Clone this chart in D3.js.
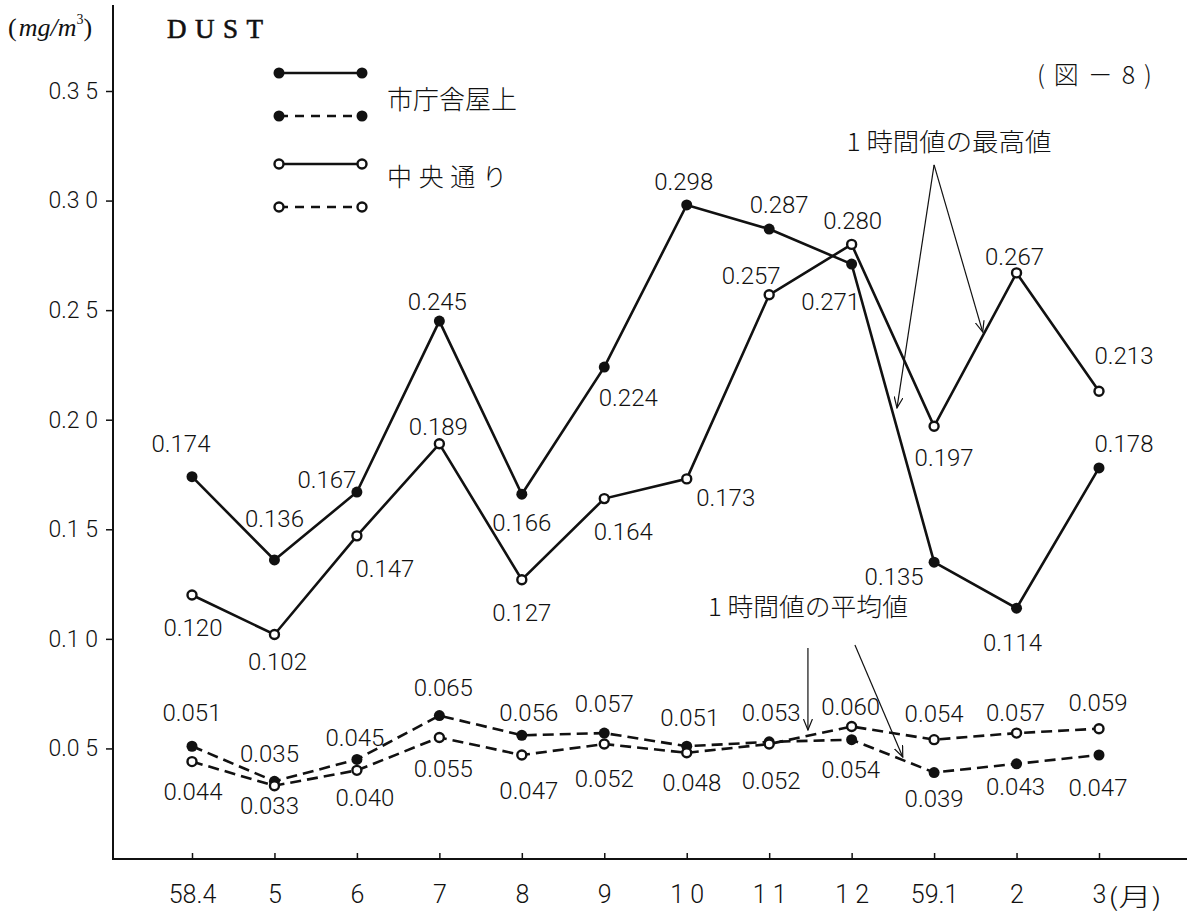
<!DOCTYPE html>
<html>
<head>
<meta charset="utf-8">
<script src="https://cdn.jsdelivr.net/npm/d3@7"></script>
<style>
  body { margin: 0; background: #fff; }
  svg { display: block; background: #fff; }
</style>
</head>
<body>
<svg id="dust-svg" width="1187" height="915"></svg>
<script>
// months on the x axis (Showa 58.4 -> 59.3)
const months = ["58.4", "5", "6", "7", "8", "9", "10", "11", "12", "59.1", "2", "3"];
const monthLabels = ["58.4", "5", "6", "7", "8", "9", "1 0", "1 1", "1 2", "59.1", "2", "3"];
const yTicks = [0.05, 0.10, 0.15, 0.20, 0.25, 0.30, 0.35];
const yTickLabels = ["0.0 5", "0.1 0", "0.1 5", "0.2 0", "0.2 5", "0.3 0", "0.3 5"];

// 1時間値の最高値
const roofMax = [0.174, 0.136, 0.167, 0.245, 0.166, 0.224, 0.298, 0.287, 0.271, 0.135, 0.114, 0.178];
const centerMax = [0.120, 0.102, 0.147, 0.189, 0.127, 0.164, 0.173, 0.257, 0.280, 0.197, 0.267, 0.213];
// 1時間値の平均値
const roofAvg = [0.051, 0.035, 0.045, 0.065, 0.056, 0.057, 0.051, 0.053, 0.054, 0.039, 0.043, 0.047];
const centerAvg = [0.044, 0.033, 0.040, 0.055, 0.047, 0.052, 0.048, 0.052, 0.060, 0.054, 0.057, 0.059];

// where each value label sits relative to its point (px)
const roofMaxLabelPos = [[-11,-33],[0,-42],[-30,-13],[-2,-20],[0,28],[24,30],[-3,-24],[10,-25],[-21,37],[-40,14],[-4,34],[25,-25]];
const centerMaxLabelPos = [[1,32],[3,27],[28,32],[-1,-17],[0,33],[19,33],[39,18],[-18,-19],[1,-24],[10,31],[-2,-17],[25,-36]];
const roofAvgLabelPos = [[0,-34],[-5,-28],[-2,-22],[4,-28],[7,-23],[0,-30],[3,-29],[2,-29],[-1,30],[0,26],[-1,23],[-1,32]];
const centerAvgLabelPos = [[1,30],[-5,20],[8,27],[4,31],[7,35],[0,34],[5,30],[2,36],[-1,-20],[0,-26],[-1,-21],[-1,-26]];

// annotation arrows in data units: [monthIndex, value]
const maxNoteArrows = [[[9.0, 0.3163], [8.55, 0.2054]], [[9.0, 0.3163], [9.59, 0.240]]];
const avgNoteArrows = [[[7.47, 0.0958], [7.47, 0.0584]], [[8.04, 0.0972], [8.62, 0.0461]]];

function createDustChart(width, height) {
    const size = {
        width: width,
        height: height,
        left: 113,
        top: 91,
        bottom: 858
    };
    const svg = d3.select('#dust-svg');
    const numFont = "Roboto, 'Liberation Sans', Arial, sans-serif";
    const jpFont = "'Noto Sans CJK JP', 'Noto Sans', sans-serif";
    const ink = "#111";

    const xScale = d3.scalePoint()
        .domain(months)
        .range([192, 1099]);
    const xIdx = d3.scaleLinear()
        .domain([0, months.length - 1])
        .range([192, 1099]);
    const yScale = d3.scaleLinear()
        .domain([0, 0.35])
        .range([size.bottom, size.top]);

    // axes
    svg.append("line")
        .attr("x1", size.left).attr("x2", size.left)
        .attr("y1", 5).attr("y2", size.bottom + 1)
        .attr("stroke", ink).attr("stroke-width", 2);
    svg.append("line")
        .attr("x1", size.left - 1).attr("x2", size.width)
        .attr("y1", size.bottom + 1).attr("y2", size.bottom + 1)
        .attr("stroke", ink).attr("stroke-width", 2);

    const yAxis = svg.append("g")
        .attr("transform", `translate(${size.left}, 0)`)
        .call(d3.axisLeft(yScale).tickValues(yTicks).tickSize(7).tickPadding(8)
            .tickFormat((d, i) => yTickLabels[i]));
    yAxis.select(".domain").remove();
    yAxis.selectAll("line").attr("stroke", ink).attr("stroke-width", 1.5);
    yAxis.selectAll("text")
        .attr("font-family", numFont).attr("font-weight", 300)
        .attr("font-size", 23).attr("fill", ink);

    const xAxis = svg.append("g")
        .attr("transform", `translate(0, ${size.bottom + 1})`)
        .call(d3.axisBottom(xScale).tickSize(-6).tickPadding(26)
            .tickFormat((d, i) => monthLabels[i]));
    xAxis.select(".domain").remove();
    xAxis.selectAll("line").attr("stroke", ink).attr("stroke-width", 1.5);
    xAxis.selectAll("text")
        .attr("font-family", numFont).attr("font-weight", 300)
        .attr("font-size", 25).attr("fill", ink);

    svg.append("text")
        .attr("x", 1108)
        .attr("y", 897)
        .attr("dy", "0.35em")
        .attr("font-family", jpFont)
        .attr("font-weight", 300)
        .attr("font-size", 25)
        .attr("textLength", 54)
        .attr("lengthAdjust", "spacingAndGlyphs")
        .attr("fill", ink)
        .text("(月)");

    // series
    const series = [
        { values: roofMax, filled: true, dashed: false, labelPos: roofMaxLabelPos },
        { values: centerMax, filled: false, dashed: false, labelPos: centerMaxLabelPos },
        { values: roofAvg, filled: true, dashed: true, labelPos: roofAvgLabelPos },
        { values: centerAvg, filled: false, dashed: true, labelPos: centerAvgLabelPos }
    ];

    const line = d3.line()
        .x((d, i) => xScale(months[i]))
        .y(d => yScale(d));

    series.forEach(s => {
        svg.append("path")
            .datum(s.values)
            .attr("fill", "none")
            .attr("stroke", ink)
            .attr("stroke-width", 2.6)
            .attr("stroke-dasharray", s.dashed ? "11,6" : null)
            .attr("d", line);
    });

    series.forEach(s => {
        svg.append("g")
            .selectAll("circle")
            .data(s.values)
            .join("circle")
            .attr("cx", (d, i) => xScale(months[i]))
            .attr("cy", d => yScale(d))
            .attr("r", s.filled ? 5.5 : 4.5)
            .attr("fill", s.filled ? ink : "#fff")
            .attr("stroke", ink)
            .attr("stroke-width", s.filled ? 0 : 2.4);

        svg.append("g")
            .selectAll("text")
            .data(s.values)
            .join("text")
            .attr("x", (d, i) => xScale(months[i]) + s.labelPos[i][0])
            .attr("y", (d, i) => yScale(d) + s.labelPos[i][1])
            .attr("dy", "0.36em")
            .attr("text-anchor", "middle")
            .attr("font-family", numFont)
            .attr("font-weight", 300)
            .attr("font-size", 24)
            .attr("fill", ink)
            .text(d => d.toFixed(3));
    });

    // annotation arrows
    const defs = svg.append("defs");
    defs.append("marker")
        .attr("id", "vhead")
        .attr("viewBox", "0 0 12 10")
        .attr("refX", 11).attr("refY", 5)
        .attr("markerWidth", 12).attr("markerHeight", 10)
        .attr("markerUnits", "userSpaceOnUse")
        .attr("orient", "auto")
        .append("path")
        .attr("d", "M0,0.5 L11,5 L0,9.5")
        .attr("fill", "none")
        .attr("stroke", ink)
        .attr("stroke-width", 1.2);

    maxNoteArrows.concat(avgNoteArrows).forEach(a => {
        svg.append("line")
            .attr("x1", xIdx(a[0][0])).attr("y1", yScale(a[0][1]))
            .attr("x2", xIdx(a[1][0])).attr("y2", yScale(a[1][1]))
            .attr("stroke", ink)
            .attr("stroke-width", 1.2)
            .attr("marker-end", "url(#vhead)");
    });

    svg.append("text")
        .attr("x", xIdx(9.18))
        .attr("y", yScale(0.3268))
        .attr("dy", "0.36em")
        .attr("text-anchor", "middle")
        .attr("font-family", jpFont)
        .attr("font-weight", 300)
        .attr("font-size", 25)
        .attr("textLength", 205)
        .attr("lengthAdjust", "spacingAndGlyphs")
        .attr("fill", ink)
        .text("1 時間値の最高値");

    svg.append("text")
        .attr("x", xIdx(7.47))
        .attr("y", yScale(0.1146))
        .attr("dy", "0.36em")
        .attr("text-anchor", "middle")
        .attr("font-family", jpFont)
        .attr("font-weight", 300)
        .attr("font-size", 25)
        .attr("textLength", 200)
        .attr("lengthAdjust", "spacingAndGlyphs")
        .attr("fill", ink)
        .text("1 時間値の平均値");

    // legend
    const legend = svg.append("g");
    const legendRows = [
        { y: 73, filled: true, dashed: false },
        { y: 116, filled: true, dashed: true },
        { y: 164, filled: false, dashed: false },
        { y: 207, filled: false, dashed: true }
    ];
    legendRows.forEach(r => {
        legend.append("line")
            .attr("x1", 279).attr("x2", 362)
            .attr("y1", r.y).attr("y2", r.y)
            .attr("stroke", ink)
            .attr("stroke-width", 2.4)
            .attr("stroke-dasharray", r.dashed ? "9,7" : null);
        [279, 362].forEach(cx => {
            legend.append("circle")
                .attr("cx", cx).attr("cy", r.y)
                .attr("r", r.filled ? 5.5 : 4.5)
                .attr("fill", r.filled ? ink : "#fff")
                .attr("stroke", ink)
                .attr("stroke-width", r.filled ? 0 : 2.4);
        });
    });
    legend.append("text")
        .attr("x", 387).attr("y", 100).attr("dy", "0.36em")
        .attr("font-family", jpFont).attr("font-weight", 300).attr("font-size", 26)
        .attr("textLength", 130).attr("lengthAdjust", "spacingAndGlyphs")
        .attr("fill", ink)
        .text("市庁舎屋上");
    legend.append("text")
        .attr("x", 387).attr("y", 177).attr("dy", "0.36em")
        .attr("font-family", jpFont).attr("font-weight", 300).attr("font-size", 25)
        .attr("textLength", 120).attr("lengthAdjust", "spacing")
        .attr("fill", ink)
        .text("中央通り");

    // titles
    svg.append("text")
        .attr("x", 167).attr("y", 38)
        .attr("font-family", "'Liberation Serif', 'Times New Roman', serif")
        .attr("font-size", 27)
        .attr("textLength", 96)
        .attr("lengthAdjust", "spacing")
        .attr("fill", ink)
        .attr("stroke", ink)
        .attr("stroke-width", 0.6)
        .text("DUST");

    const unit = svg.append("text")
        .attr("x", 8).attr("y", 36)
        .attr("font-family", "'Liberation Serif', 'Times New Roman', serif")
        .attr("font-size", 26)
        .attr("fill", ink);
    unit.append("tspan").text("(");
    unit.append("tspan").attr("font-style", "italic").attr("dx", 2).text("mg");
    unit.append("tspan").attr("font-style", "italic").text("/");
    unit.append("tspan").attr("font-style", "italic").text("m");
    unit.append("tspan").attr("font-size", 14).attr("dy", -12).text("3");
    unit.append("tspan").attr("dy", 12).text(")");

    svg.append("text")
        .attr("x", 1037).attr("y", 75).attr("dy", "0.36em")
        .attr("font-family", jpFont).attr("font-weight", 300).attr("font-size", 25)
        .attr("textLength", 115).attr("lengthAdjust", "spacing")
        .attr("fill", ink)
        .text("(図－8)");
}

createDustChart(1187, 915);
</script>
</body>
</html>
